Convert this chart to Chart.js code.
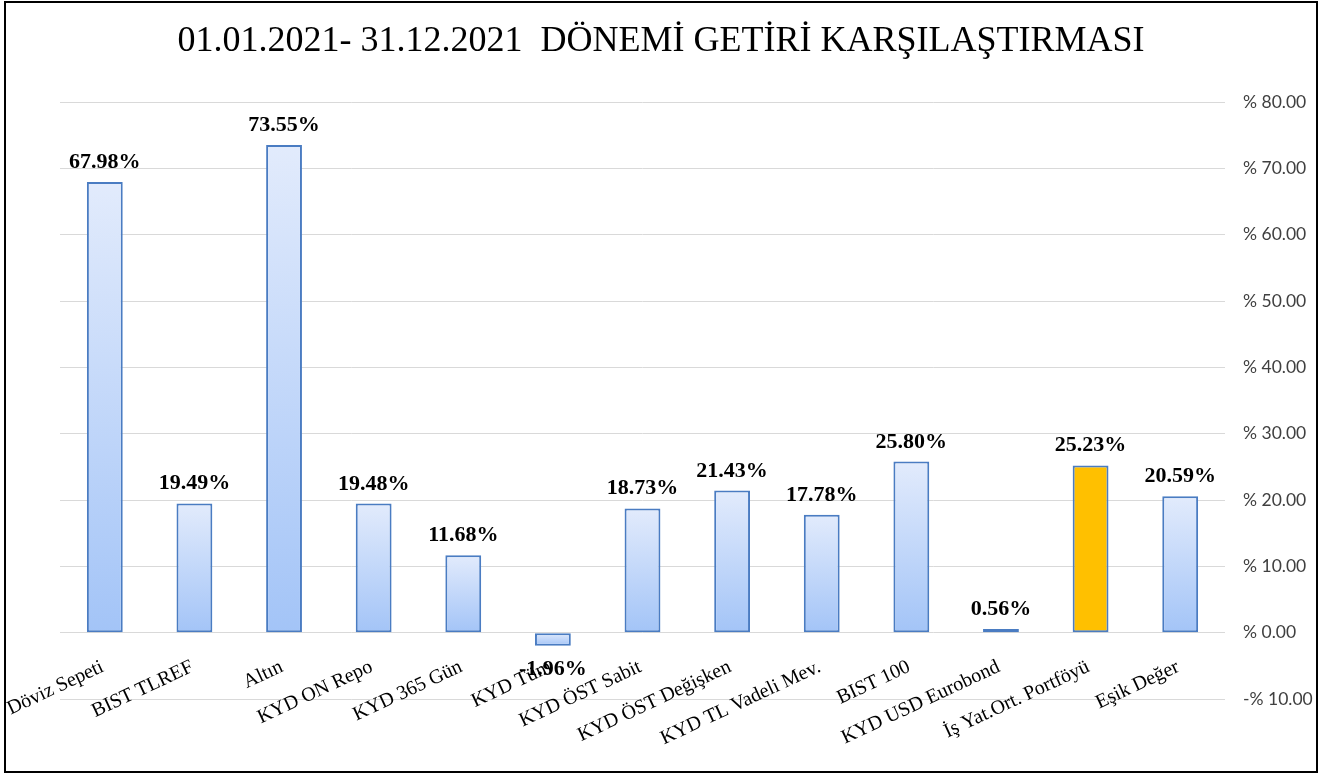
<!DOCTYPE html>
<html>
<head>
<meta charset="utf-8">
<script src="https://cdn.jsdelivr.net/npm/chart.js@4.4.1/dist/chart.umd.min.js"></script>
<style>
    body { margin: 0; background: #ffffff; }
    #frame {
        position: absolute;
        left: 4px;
        top: 1px;
        width: 1310px;
        height: 768px;
        border: 2px solid #000000;
    }
</style>
</head>
<body>
<div id="frame"><canvas id="returnChart" width="1310" height="768"></canvas></div>
<script>
// 01.01.2021 - 31.12.2021 return comparison
const categories = [
    'Döviz Sepeti', 'BIST TLREF', 'Altın', 'KYD ON Repo', 'KYD 365 Gün',
    'KYD Tüm', 'KYD ÖST Sabit', 'KYD ÖST Değişken', 'KYD TL Vadeli Mev.',
    'BIST 100', 'KYD USD Eurobond', 'İş Yat.Ort. Portföyü', 'Eşik Değer'
];
const returns = [67.98, 19.49, 73.55, 19.48, 11.68, -1.96, 18.73, 21.43, 17.78, 25.80, 0.56, 25.23, 20.59];
const highlightIndex = 11;
const yTicks = [-10, 0, 10, 20, 30, 40, 50, 60, 70, 80];

// Value labels above (or below) each bar
const valueLabels = {
    id: 'valueLabels',
    afterDatasetsDraw(chart) {
        const ctx = chart.ctx;
        const meta = chart.getDatasetMeta(0);
        ctx.save();
        ctx.font = 'bold 22px "Liberation Serif", "Times New Roman", serif';
        ctx.fillStyle = '#000000';
        ctx.textAlign = 'center';
        ctx.textBaseline = 'alphabetic';
        meta.data.forEach(function(bar, i) {
            const value = returns[i];
            const text = value.toFixed(2) + '%';
            if (value >= 0) {
                ctx.fillText(text, bar.x, bar.y - 14);
            } else {
                ctx.fillText(text, bar.x, bar.y + 29);
            }
        });
        ctx.restore();
    }
};

function barFill(context) {
    const i = context.dataIndex;
    if (i === highlightIndex) return '#ffc000';
    const chart = context.chart;
    const yScale = chart.scales.y;
    if (!chart.chartArea || !yScale) return '#c5d9f8';
    const y1 = yScale.getPixelForValue(returns[i]);
    const y0 = yScale.getPixelForValue(0);
    const top = Math.min(y0, y1);
    const bottom = Math.max(y0, y1);
    const g = chart.ctx.createLinearGradient(0, top, 0, bottom + 0.01);
    g.addColorStop(0, '#e2ebfc');
    g.addColorStop(1, '#a3c4f7');
    return g;
}

const ctx = document.getElementById('returnChart');
new Chart(ctx, {
    type: 'bar',
    data: {
        labels: categories,
        datasets: [{
            data: returns,
            backgroundColor: barFill,
            borderColor: '#4a7cc2',
            borderWidth: 2,
            borderSkipped: false,
            categoryPercentage: 1,
            barPercentage: 0.4
        }]
    },
    options: {
        responsive: false,
        animation: false,
        layout: {
            padding: 0
        },
        plugins: {
            legend: { display: false },
            tooltip: { enabled: false },
            title: {
                display: true,
                text: '01.01.2021- 31.12.2021  DÖNEMİ GETİRİ KARŞILAŞTIRMASI',
                color: '#000000',
                font: {
                    family: '"Liberation Serif", "Times New Roman", serif',
                    size: 36,
                    weight: 'normal'
                },
                padding: { top: 17, bottom: 39 }
            }
        },
        scales: {
            x: {
                grid: { display: false, drawTicks: false },
                border: { display: false },
                ticks: {
                    color: '#000000',
                    font: {
                        family: '"Liberation Serif", "Times New Roman", serif',
                        size: 20
                    },
                    minRotation: 25,
                    maxRotation: 25,
                    autoSkip: false,
                    mirror: true,
                    padding: 22,
                    labelOffset: 8
                },
                afterFit: function(scale) {
                    scale.height = 72;
                    scale.paddingLeft = 54;
                    scale.paddingRight = 0;
                }
            },
            y: {
                position: 'right',
                min: -10,
                max: 80,
                afterBuildTicks: function(scale) {
                    scale.ticks = yTicks.map(v => ({ value: v }));
                },
                grid: {
                    color: '#d9d9d9',
                    lineWidth: 1,
                    drawTicks: false
                },
                border: { display: false },
                ticks: {
                    color: '#404040',
                    padding: 18,
                    font: {
                        family: 'Lato, "Open Sans", sans-serif',
                        size: 17.5
                    },
                    callback: function(value) {
                        if (value < 0) return '-% ' + Math.abs(value).toFixed(2);
                        return '% ' + value.toFixed(2);
                    }
                },
                afterFit: function(scale) {
                    scale.width = 91;
                }
            }
        }
    },
    plugins: [valueLabels]
});
</script>
</body>
</html>
